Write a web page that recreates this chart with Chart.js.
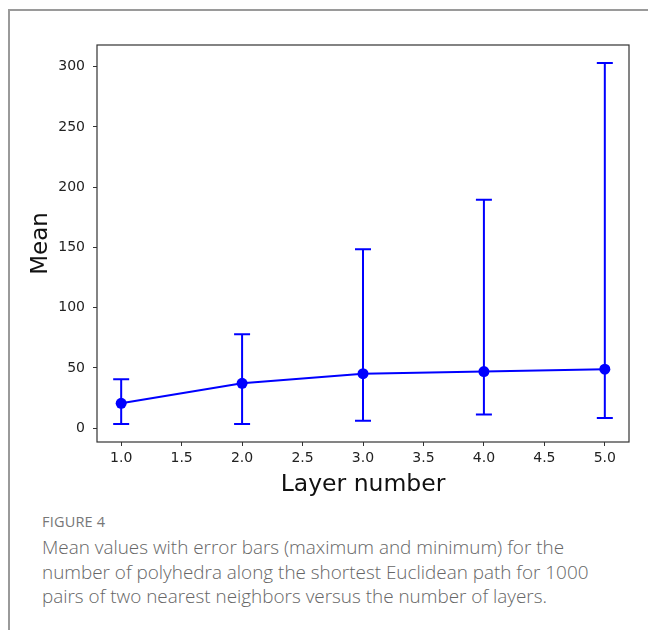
<!DOCTYPE html>
<html>
<head>
<meta charset="utf-8">
<script src="https://cdn.jsdelivr.net/npm/chart.js@4.4.1/dist/chart.umd.min.js"></script>
<style>
  html, body { margin: 0; padding: 0; background: #fff; }
  body { width: 648px; height: 630px; position: relative; overflow: hidden; }
  #frame { position: absolute; left: 8px; top: 9px; width: 660px; height: 640px;
           border-top: 2px solid #9a9a9a; border-left: 2px solid #9a9a9a; box-sizing: border-box; }
  #wrap { position: absolute; left: 0; top: 0; width: 648px; height: 500px; }
  #fig { position: absolute; left: 42px; top: 512px; font-family: "Open Sans", sans-serif;
         font-size: 14.5px; color: #777; letter-spacing: 0.2px; }
  #cap { position: absolute; left: 42px; top: 535px; font-family: "Open Sans", sans-serif;
         font-size: 18.9px; line-height: 24.5px; color: #666; font-weight: 300; white-space: nowrap; }
</style>
</head>
<body>
<div id="frame"></div>
<div id="wrap"><canvas id="c" width="648" height="500"></canvas></div>
<div id="fig">FIGURE 4</div>
<div id="cap">Mean values with error bars (maximum and minimum) for the<br>number of polyhedra along the shortest Euclidean path for 1000<br>pairs of two nearest neighbors versus the number of layers.</div>
<script>
// Data
const layers = [1, 2, 3, 4, 5];
const meanValues = [20.7, 37.3, 45.3, 47.0, 49.0];
const maxValues = [40.7, 78.0, 148.5, 189.5, 303.0];
const minValues = [3.6, 3.6, 6.3, 11.5, 8.5];
const xTickValues = [1.0, 1.5, 2.0, 2.5, 3.0, 3.5, 4.0, 4.5, 5.0];
const yTickValues = [0, 50, 100, 150, 200, 250, 300];

const BLUE = '#0000ff';

const errorBarPlugin = {
  id: 'errorBars',
  beforeDatasetsDraw(chart) {
    const {ctx, scales: {x, y}} = chart;
    ctx.save();
    ctx.strokeStyle = BLUE;
    ctx.lineWidth = 2;
    ctx.lineCap = 'butt';
    layers.forEach((l, i) => {
      const px = x.getPixelForValue(l);
      const pTop = y.getPixelForValue(maxValues[i]);
      const pBot = y.getPixelForValue(minValues[i]);
      ctx.beginPath();
      ctx.moveTo(px, pTop); ctx.lineTo(px, pBot);
      ctx.moveTo(px - 8, pTop); ctx.lineTo(px + 8, pTop);
      ctx.moveTo(px - 8, pBot); ctx.lineTo(px + 8, pBot);
      ctx.stroke();
    });
    ctx.restore();
  }
};

const boxPlugin = {
  id: 'box',
  afterDraw(chart) {
    const {ctx, chartArea: a} = chart;
    ctx.save();
    ctx.strokeStyle = '#333';
    ctx.lineWidth = 1.2;
    ctx.strokeRect(a.left, a.top, a.right - a.left, a.bottom - a.top);
    ctx.restore();
  }
};

const tickFont = { family: 'DejaVu Sans', size: 14 };

new Chart(document.getElementById('c'), {
  type: 'scatter',
  data: {
    datasets: [{
      data: layers.map((l, i) => ({ x: l, y: meanValues[i] })),
      showLine: true,
      borderColor: BLUE,
      backgroundColor: BLUE,
      borderWidth: 2,
      pointRadius: 5.5,
      pointHoverRadius: 5.5,
      pointBorderWidth: 0
    }]
  },
  options: {
    responsive: false,
    animation: false,
    events: [],
    layout: { padding: { left: 0, top: 45, right: 19, bottom: 0 } },
    plugins: { legend: { display: false }, tooltip: { enabled: false } },
    scales: {
      x: {
        type: 'linear',
        min: 0.8, max: 5.2,
        afterBuildTicks: (s) => { s.ticks = xTickValues.map(v => ({ value: v })); },
        afterFit: (s) => { s.height = 58; },
        ticks: { callback: (v) => Number(v).toFixed(1), font: tickFont, color: '#222', padding: 4, maxRotation: 0, autoSkip: false },
        grid: { drawOnChartArea: false, drawTicks: true, tickLength: 4, color: '#333', tickWidth: 1 },
        border: { display: false },
        title: { display: true, text: 'Layer number', font: { family: 'DejaVu Sans', size: 23.5 }, color: '#111', padding: { top: 0, bottom: 1 } }
      },
      y: {
        type: 'linear',
        min: -11.4, max: 318,
        afterBuildTicks: (s) => { s.ticks = yTickValues.map(v => ({ value: v })); },
        afterFit: (s) => { s.width = 97; },
        ticks: { font: tickFont, color: '#222', padding: 8, autoSkip: false },
        grid: { drawOnChartArea: false, drawTicks: true, tickLength: 4, color: '#333', tickWidth: 1 },
        border: { display: false },
        title: { display: true, text: 'Mean', font: { family: 'DejaVu Sans', size: 23 }, color: '#111', padding: { top: 27, bottom: 0 } }
      }
    }
  },
  plugins: [errorBarPlugin, boxPlugin]
});
</script>
</body>
</html>
